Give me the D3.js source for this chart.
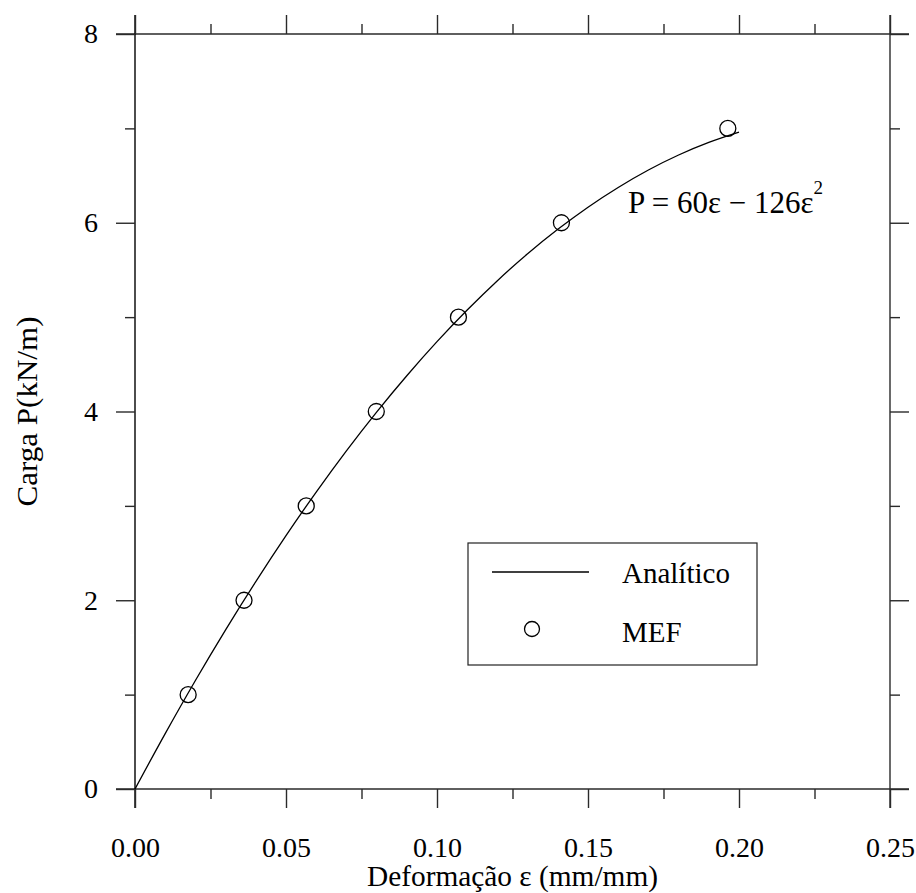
<!DOCTYPE html>
<html>
<head>
<meta charset="utf-8">
<script src="https://cdn.jsdelivr.net/npm/d3@7"></script>
<style>
  body { margin: 0; background: #fff; }
  svg { display: block; }
  text { font-family: "Liberation Serif", "Times New Roman", serif; fill: #000; }
</style>
</head>
<body>
<svg id="chart" width="916" height="893"></svg>
<script>
// Analytic curve P = 60ε − 126ε²
const curveEps = [0, 0.01, 0.02, 0.03, 0.04, 0.05, 0.06, 0.07, 0.08, 0.09, 0.10,
                  0.11, 0.12, 0.13, 0.14, 0.15, 0.16, 0.17, 0.18, 0.19, 0.20];
const curveP   = [0, 0.587, 1.150, 1.687, 2.198, 2.685, 3.146, 3.583, 3.994, 4.379, 4.740,
                  5.075, 5.386, 5.671, 5.930, 6.165, 6.374, 6.559, 6.718, 6.851, 6.960];
// MEF points
const mefEps = [0.0176, 0.0361, 0.0567, 0.0799, 0.1071, 0.1412, 0.1963];
const mefP   = [1, 2, 3, 4, 5, 6, 7];
// Ticks
const xTicksMajor = [0.00, 0.05, 0.10, 0.15, 0.20, 0.25];
const xTicksMinor = [0.025, 0.075, 0.125, 0.175, 0.225];
const yTicksMajor = [0, 2, 4, 6, 8];
const yTicksMinor = [1, 3, 5, 7];
const xLabels = ["0.00", "0.05", "0.10", "0.15", "0.20", "0.25"];
const yLabels = ["0", "2", "4", "6", "8"];
const legendLabels = ["Analítico", "MEF"];

const svg = d3.select("#chart");
const L = 135, R = 890, T = 34, B = 789;
const x = d3.scaleLinear().domain([0, 0.25]).range([L, R]);
const y = d3.scaleLinear().domain([0, 8]).range([B, T]);

const axisColor = "#2a2a2a";
const sw = 1.4;

function styleAxis(g) {
  g.select(".domain").remove();
  g.selectAll(".tick line").attr("stroke", axisColor).attr("stroke-width", sw);
}

// frame lines (extend by major tick length past corners)
const frame = svg.append("g").attr("stroke", axisColor).attr("stroke-width", sw);
frame.append("line").attr("x1", L - 19).attr("x2", R + 19).attr("y1", B).attr("y2", B);
frame.append("line").attr("x1", L - 19).attr("x2", R + 19).attr("y1", T).attr("y2", T);
frame.append("line").attr("x1", L).attr("x2", L).attr("y1", T - 19).attr("y2", B + 19).attr("stroke", "#000");
frame.append("line").attr("x1", R).attr("x2", R).attr("y1", T - 19).attr("y2", B + 19);

// bottom axis
svg.append("g").attr("transform", `translate(0,${B})`)
  .call(d3.axisBottom(x).tickValues(xTicksMajor).tickSize(19).tickPadding(29)
    .tickFormat((d, i) => xLabels[i]))
  .call(styleAxis)
  .call(g => g.selectAll("text").attr("font-size", 28).attr("font-family", "Liberation Serif").attr("fill", "#000"));
svg.append("g").attr("transform", `translate(0,${B})`)
  .call(d3.axisBottom(x).tickValues(xTicksMinor).tickSize(10).tickFormat(""))
  .call(styleAxis);
// top axis
svg.append("g").attr("transform", `translate(0,${T})`)
  .call(d3.axisTop(x).tickValues(xTicksMajor).tickSize(19).tickFormat(""))
  .call(styleAxis);
svg.append("g").attr("transform", `translate(0,${T})`)
  .call(d3.axisTop(x).tickValues(xTicksMinor).tickSize(10).tickFormat(""))
  .call(styleAxis);
// left axis
svg.append("g").attr("transform", `translate(${L},0)`)
  .call(d3.axisLeft(y).tickValues(yTicksMajor).tickSize(19).tickPadding(18)
    .tickFormat((d, i) => yLabels[i]))
  .call(styleAxis)
  .call(g => g.selectAll("text").attr("font-size", 28).attr("font-family", "Liberation Serif").attr("fill", "#000"));
svg.append("g").attr("transform", `translate(${L},0)`)
  .call(d3.axisLeft(y).tickValues(yTicksMinor).tickSize(10).tickFormat(""))
  .call(styleAxis);
// right axis
svg.append("g").attr("transform", `translate(${R},0)`)
  .call(d3.axisRight(y).tickValues(yTicksMajor).tickSize(19).tickFormat(""))
  .call(styleAxis);
svg.append("g").attr("transform", `translate(${R},0)`)
  .call(d3.axisRight(y).tickValues(yTicksMinor).tickSize(10).tickFormat(""))
  .call(styleAxis);

// analytic curve
const curveData = curveEps.map((e, i) => [e, curveP[i]]);
svg.append("path")
  .datum(curveData)
  .attr("fill", "none")
  .attr("stroke", "#000")
  .attr("stroke-width", 1.3)
  .attr("d", d3.line().x(d => x(d[0])).y(d => y(d[1])).curve(d3.curveMonotoneX));

// MEF points
svg.append("g").selectAll("circle")
  .data(mefEps.map((e, i) => [e, mefP[i]]))
  .join("circle")
  .attr("cx", d => x(d[0]))
  .attr("cy", d => y(d[1]))
  .attr("r", 8)
  .attr("fill", "none")
  .attr("stroke", "#000")
  .attr("stroke-width", 1.3);

// equation
const eq = svg.append("text").attr("x", 628).attr("y", 213).attr("font-size", 31);
eq.append("tspan").text("P = 60ε − 126ε");
eq.append("tspan").attr("font-size", 19).attr("dy", -19).text("2");

// axis titles
svg.append("text")
  .attr("x", (L + R) / 2).attr("y", 886)
  .attr("text-anchor", "middle")
  .attr("font-size", 29)
  .attr("textLength", 291).attr("lengthAdjust", "spacingAndGlyphs")
  .text("Deformação ε (mm/mm)");
svg.append("text")
  .attr("transform", `translate(37,${(T + B) / 2}) rotate(-90)`)
  .attr("text-anchor", "middle")
  .attr("font-size", 29)
  .attr("textLength", 190).attr("lengthAdjust", "spacingAndGlyphs")
  .text("Carga P(kN/m)");

// legend
const lg = svg.append("g");
lg.append("rect").attr("x", 468).attr("y", 543).attr("width", 289).attr("height", 122)
  .attr("fill", "#fff").attr("stroke", "#222").attr("stroke-width", 1.2);
lg.append("line").attr("x1", 492).attr("x2", 589).attr("y1", 572).attr("y2", 572)
  .attr("stroke", "#000").attr("stroke-width", 1.3);
lg.append("circle").attr("cx", 532).attr("cy", 629).attr("r", 7.5)
  .attr("fill", "none").attr("stroke", "#000").attr("stroke-width", 1.3);
lg.append("text").attr("x", 622).attr("y", 583).attr("font-size", 29).text(legendLabels[0]);
lg.append("text").attr("x", 622).attr("y", 642).attr("font-size", 29).text(legendLabels[1]);
</script>
</body>
</html>
